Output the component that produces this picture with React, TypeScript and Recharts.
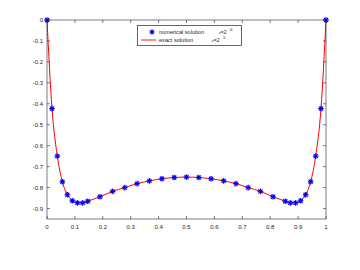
import React from 'react';
import { Legend, Line, LineChart, XAxis, YAxis } from 'recharts';

// mesh points
const xs = [
  0, 0.018, 0.037, 0.055, 0.073, 0.091, 0.109, 0.128, 0.146, 0.19, 0.235, 0.279, 0.323,
  0.367, 0.412, 0.456, 0.5, 0.544, 0.588, 0.633, 0.677, 0.721, 0.765, 0.81, 0.854, 0.872,
  0.891, 0.909, 0.927, 0.945, 0.963, 0.982, 1,
];
const numerical = [
  0, -0.423, -0.65, -0.772, -0.834, -0.863, -0.873, -0.873, -0.865, -0.844, -0.818, -0.8,
  -0.781, -0.768, -0.758, -0.752, -0.75, -0.752, -0.758, -0.768, -0.781, -0.8, -0.818,
  -0.844, -0.865, -0.873, -0.873, -0.863, -0.834, -0.772, -0.65, -0.423, 0,
];
const exact = [
  0, -0.423, -0.65, -0.772, -0.834, -0.863, -0.873, -0.873, -0.865, -0.844, -0.818, -0.8,
  -0.781, -0.768, -0.758, -0.752, -0.75, -0.752, -0.758, -0.768, -0.781, -0.8, -0.818,
  -0.844, -0.865, -0.873, -0.873, -0.863, -0.834, -0.772, -0.65, -0.423, 0,
];
const xTicks = [0, 0.1, 0.2, 0.3, 0.4, 0.5, 0.6, 0.7, 0.8, 0.9, 1];
const yTicks = [0, -0.1, -0.2, -0.3, -0.4, -0.5, -0.6, -0.7, -0.8, -0.9];
const legendLabels = ['numerical solution', 'exact solution'];
const epsPowers = ['-6', '-5'];

const data = xs.map((x, i) => ({ x, num: numerical[i], exact: exact[i] }));

const AXIS = '#262626';
const FONT = '"Liberation Sans", Arial, sans-serif';
const TICK = 3;
// plot box edges (from the margins below)
const PLOT_TOP = 20;
const PLOT_RIGHT = 326;

const Star = ({ cx, cy, r = 2.8 }: { cx: number; cy: number; r?: number }) => {
  const d = r * 0.72;
  return (
    <g stroke='#0000ff' strokeWidth={1.2}>
      <line x1={cx - r} y1={cy} x2={cx + r} y2={cy} />
      <line x1={cx} y1={cy - r} x2={cx} y2={cy + r} />
      <line x1={cx - d} y1={cy - d} x2={cx + d} y2={cy + d} />
      <line x1={cx - d} y1={cy + d} x2={cx + d} y2={cy - d} />
    </g>
  );
};

// bottom tick: label + inward tick at bottom and top of the box
const BottomTick = (props: any) => {
  const { x, y, payload } = props;
  const axisY = y - 8;
  return (
    <g>
      <line x1={x} y1={axisY} x2={x} y2={axisY - TICK} stroke={AXIS} strokeWidth={0.6} />
      <line x1={x} y1={PLOT_TOP} x2={x} y2={PLOT_TOP + TICK} stroke={AXIS} strokeWidth={0.6} />
      <text x={x} y={y + 2} textAnchor='middle' fontSize={6} fontFamily={FONT} fill={AXIS}>
        {payload.value}
      </text>
    </g>
  );
};

// left tick: label + inward tick at left and right of the box
const LeftTick = (props: any) => {
  const { x, y, payload } = props;
  const axisX = x + 4;
  return (
    <g>
      <line x1={axisX} y1={y} x2={axisX + TICK} y2={y} stroke={AXIS} strokeWidth={0.6} />
      <line x1={PLOT_RIGHT} y1={y} x2={PLOT_RIGHT - TICK} y2={y} stroke={AXIS} strokeWidth={0.6} />
      <text x={x} y={y + 2} textAnchor='end' fontSize={6} fontFamily={FONT} fill={AXIS}>
        {payload.value}
      </text>
    </g>
  );
};

const LegendBox = () => (
  <svg width={105} height={21} style={{ display: 'block' }}>
    <rect x={0.5} y={0.5} width={104} height={20} fill='#fff' stroke={AXIS} strokeWidth={0.7} />
    <Star cx={15} cy={7} r={2.4} />
    <line x1={4} y1={15} x2={19} y2={15} stroke='#ff0000' strokeWidth={0.9} />
    {legendLabels.map((label, i) => (
      <g key={label} fontFamily={FONT} fill={AXIS}>
        <text x={22} y={9 + i * 8} fontSize={5.6}>
          {label}
        </text>
        <text x={i === 0 ? 82 : 75} y={9 + i * 8} fontSize={5}>
          <tspan fontSize={4}>ε</tspan>=2
        </text>
        <text x={i === 0 ? 92 : 85} y={6 + i * 8} fontSize={4}>
          {epsPowers[i]}
        </text>
      </g>
    ))}
  </svg>
);

export default function App() {
  return (
    <div style={{ position: 'absolute', left: 0, top: 0, background: '#fff' }}>
      <LineChart width={360} height={270} data={data} margin={{ top: 15, right: 29, bottom: 10, left: 7 }}>
        <XAxis
          dataKey='x'
          type='number'
          domain={[0, 1]}
          ticks={xTicks}
          height={20}
          tickSize={0}
          tickMargin={8}
          tickLine={false}
          tick={<BottomTick />}
          axisLine={{ stroke: AXIS, strokeWidth: 0.6 }}
          interval={0}
        />
        <XAxis
          xAxisId='top'
          orientation='top'
          type='number'
          domain={[0, 1]}
          height={5}
          tickLine={false}
          tick={false}
          axisLine={{ stroke: AXIS, strokeWidth: 0.6 }}
        />
        <YAxis
          type='number'
          domain={[-0.95, 0]}
          ticks={yTicks}
          width={40}
          tickSize={0}
          tickMargin={4}
          tickLine={false}
          tick={<LeftTick />}
          axisLine={{ stroke: AXIS, strokeWidth: 0.6 }}
          interval={0}
        />
        <YAxis
          yAxisId='right'
          orientation='right'
          type='number'
          domain={[-0.95, 0]}
          width={5}
          tickLine={false}
          tick={false}
          axisLine={{ stroke: AXIS, strokeWidth: 0.6 }}
        />
        <Line
          dataKey='num'
          stroke='none'
          isAnimationActive={false}
          dot={(p: any) => <Star key={p.index} cx={p.cx} cy={p.cy} />}
          activeDot={false}
        />
        <Line
          dataKey='exact'
          type='monotone'
          stroke='#ff0000'
          strokeWidth={1}
          dot={false}
          activeDot={false}
          isAnimationActive={false}
        />
        <Legend
          content={() => <LegendBox />}
          wrapperStyle={{ position: 'absolute', left: 137, top: 25, width: 105, height: 21 }}
        />
      </LineChart>
    </div>
  );
}
